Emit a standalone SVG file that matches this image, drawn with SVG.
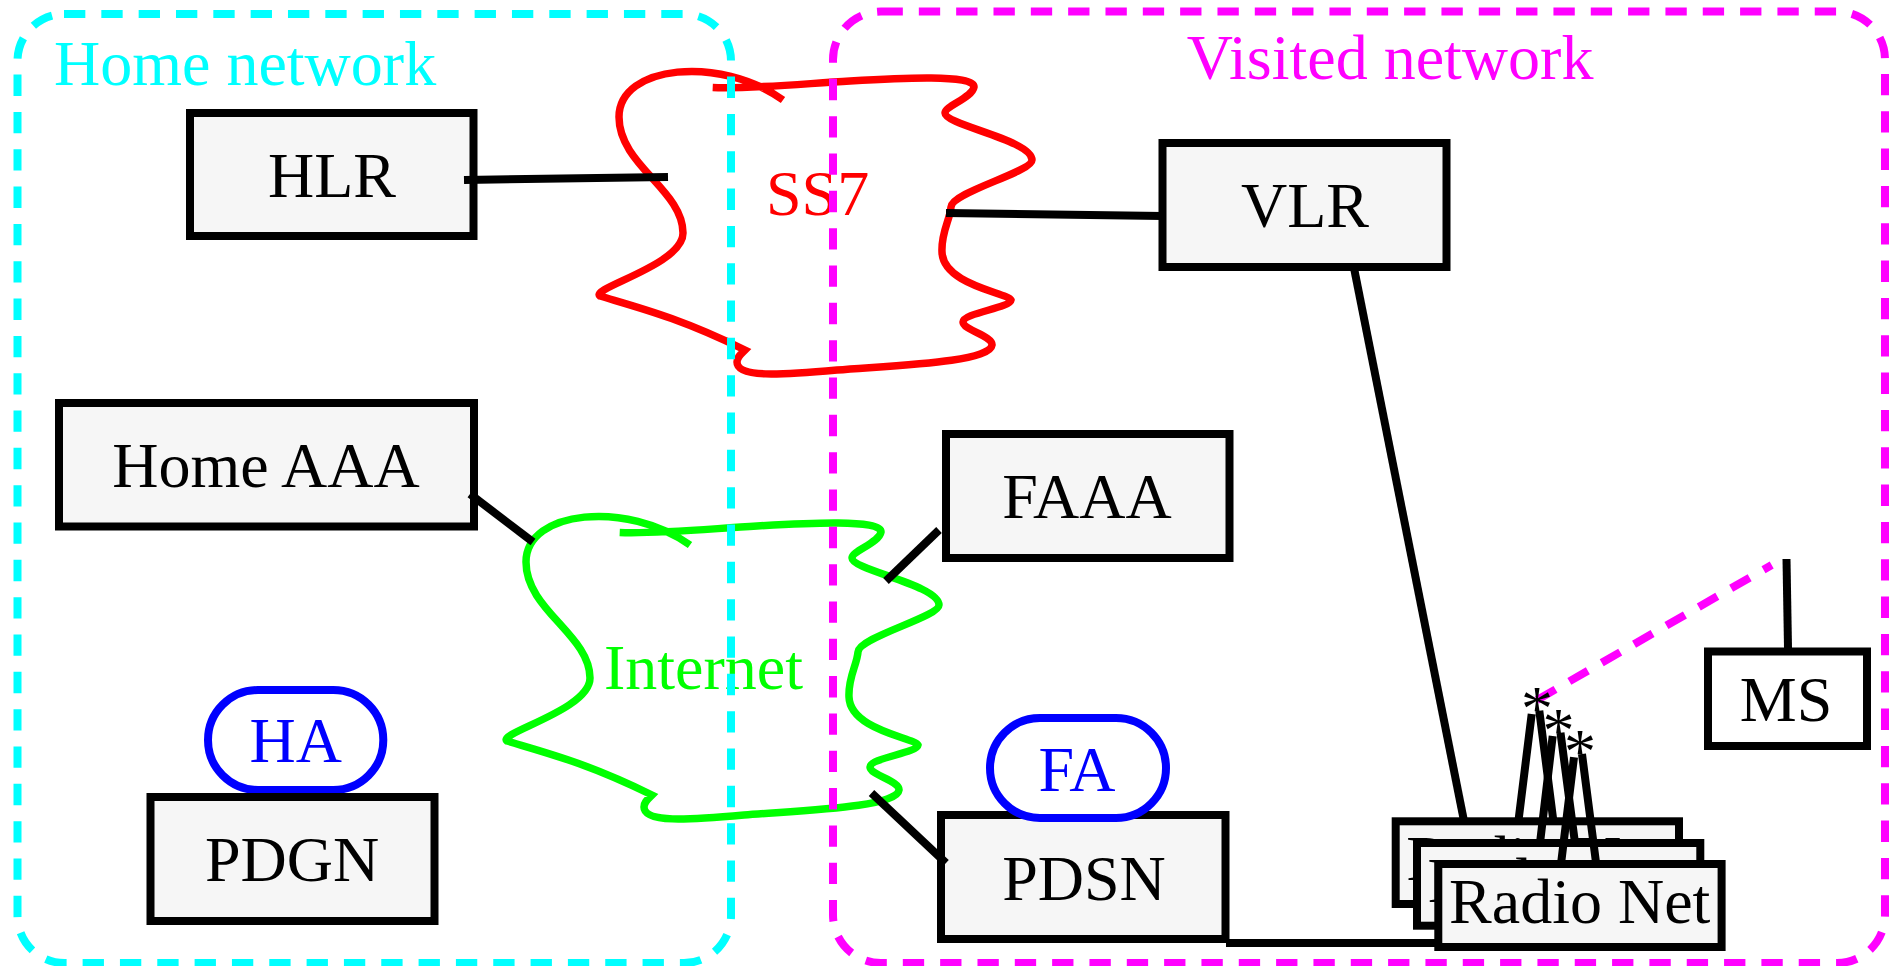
<svg xmlns="http://www.w3.org/2000/svg" xmlns:xlink="http://www.w3.org/1999/xlink" width="1890" height="966" viewBox="0 0 1890 966">
<style>
text{font-family:"Liberation Serif","Times New Roman",serif;font-size:64px;fill:#000}
.m{text-anchor:middle}
.box{fill:#f6f6f6;stroke:#000;stroke-width:8}
.pill{fill:#fff;stroke:#00f;stroke-width:8}
.ln{fill:none;stroke:#000;stroke-width:8}
.dash{fill:none;stroke-width:8;stroke-dasharray:21.33 16}
.cloud{fill:none;stroke-width:7.5}
</style>
<defs>
<path id="cloud" d="M712.7,87.5C750,89 800,84 850,81C900,78 975,74 974,87C972,98 945,106 945,113C945,125 1032,140 1032,160C1032,172 952,192 951,207C950,220 941,232 942,252C943,285 1008,293 1011,300C1010,308 963,313 963,322C963,330 993,336 992,345C990,362 900,365 837,370C780,375 737,378 737,362C737,357 741,354 745,350C680,318 640,308 600,296C590,288 683,265 683,233C683,190 619,165 619,117C619,65 720,55 783,100"/>
</defs>
<g id="ss7-cloud"><use xlink:href="#cloud" href="#cloud" class="cloud" stroke="#f00"/><text x="766" y="215" style="fill:#f00">SS7</text></g>
<g id="internet-cloud"><use xlink:href="#cloud" href="#cloud" class="cloud" stroke="#0f0" transform="translate(-93,445)"/><text x="604" y="689" style="fill:#0f0">Internet</text></g>
<g id="home-network"><path class="dash" stroke="#0ff" d="M64,14H684A47,47 0 0 1 731,61V916A47,47 0 0 1 684,963H64.5A47,47 0 0 1 17.5,916V61A47,47 0 0 1 64,14Z"/><text x="54" y="85" style="fill:#0ff">Home network</text></g>
<g id="visited-network"><path class="dash" stroke="#f0f" d="M881.5,11.5H1837A48,48 0 0 1 1885,59.5V915A48,48 0 0 1 1837,963H881A48,48 0 0 1 833,915V59.5A48,48 0 0 1 881.5,11.5Z"/><text x="1390" y="79" class="m" style="fill:#f0f">Visited network</text></g>
<g id="hlr"><rect class="box" x="190" y="113" width="283.5" height="123"/><text x="332" y="197" class="m">HLR</text></g>
<g id="vlr"><rect class="box" x="1162.5" y="143" width="284" height="124"/><text x="1305" y="227" class="m">VLR</text></g>
<g id="home-aaa"><rect class="box" x="59" y="403" width="415" height="123.5"/><text x="266" y="487" class="m">Home AAA</text></g>
<g id="faaa"><rect class="box" x="946" y="434" width="283.5" height="124"/><text x="1087" y="518" class="m">FAAA</text></g>
<g id="ha"><rect class="pill" x="208" y="690" width="175.3" height="100" rx="50" ry="50"/><text x="295.8" y="762" class="m" style="fill:#00f">HA</text></g>
<g id="pdgn"><rect class="box" x="150.5" y="797" width="284" height="124"/><text x="292" y="881" class="m">PDGN</text></g>
<g id="pdsn"><rect class="box" x="941" y="815" width="284.5" height="124"/><text x="1084" y="900" class="m">PDSN</text></g>
<g id="fa"><rect class="pill" x="990" y="718" width="176" height="100" rx="50" ry="50"/><text x="1077" y="791" class="m" style="fill:#00f">FA</text></g>
<g id="ms"><rect x="1708" y="651.5" width="159" height="94.5" fill="#fff" stroke="#000" stroke-width="8"/><text x="1786" y="720.7" class="m">MS</text></g>
<g id="connectors">
<path class="ln" d="M464,180L668,177"/>
<path class="ln" d="M946,213L1163,216"/>
<path class="ln" d="M470,494L533,542"/>
<path class="ln" d="M939,530L886,581"/>
<path class="ln" d="M871.5,793L946,863"/>
<path class="ln" d="M1354,268L1464,821"/>
<path class="ln" d="M1226,943H1438"/>
<path class="ln" d="M1786.5,559L1788,648"/>
<path d="M1537,700L1771.7,565" fill="none" stroke="#f0f" stroke-width="8" stroke-dasharray="21.33 16"/>
</g>
<g id="radio-net-1"><path class="ln" d="M1518.3,822L1531.7,714M1539.3,710.7L1553.5,822"/><text x="1537" y="730" class="m">*</text><rect class="box" x="1395.7" y="821.3" width="283.3" height="82.7"/><text x="1536.8" y="880.3" class="m">Radio Net</text></g>
<g id="radio-net-2"><path class="ln" d="M1540,843L1552.7,736M1560.5,732.7L1575,843"/><text x="1558.5" y="751.5" class="m">*</text><rect class="box" x="1417" y="843" width="283.3" height="82.7"/><text x="1558.2" y="902" class="m">Radio Net</text></g>
<g id="radio-net-3"><path class="ln" d="M1561,864L1574,757.3M1582,754L1596.2,864"/><text x="1580" y="773" class="m">*</text><rect class="box" x="1438.3" y="864" width="283.3" height="83"/><text x="1579.7" y="923.3" class="m">Radio Net</text></g>
</svg>
